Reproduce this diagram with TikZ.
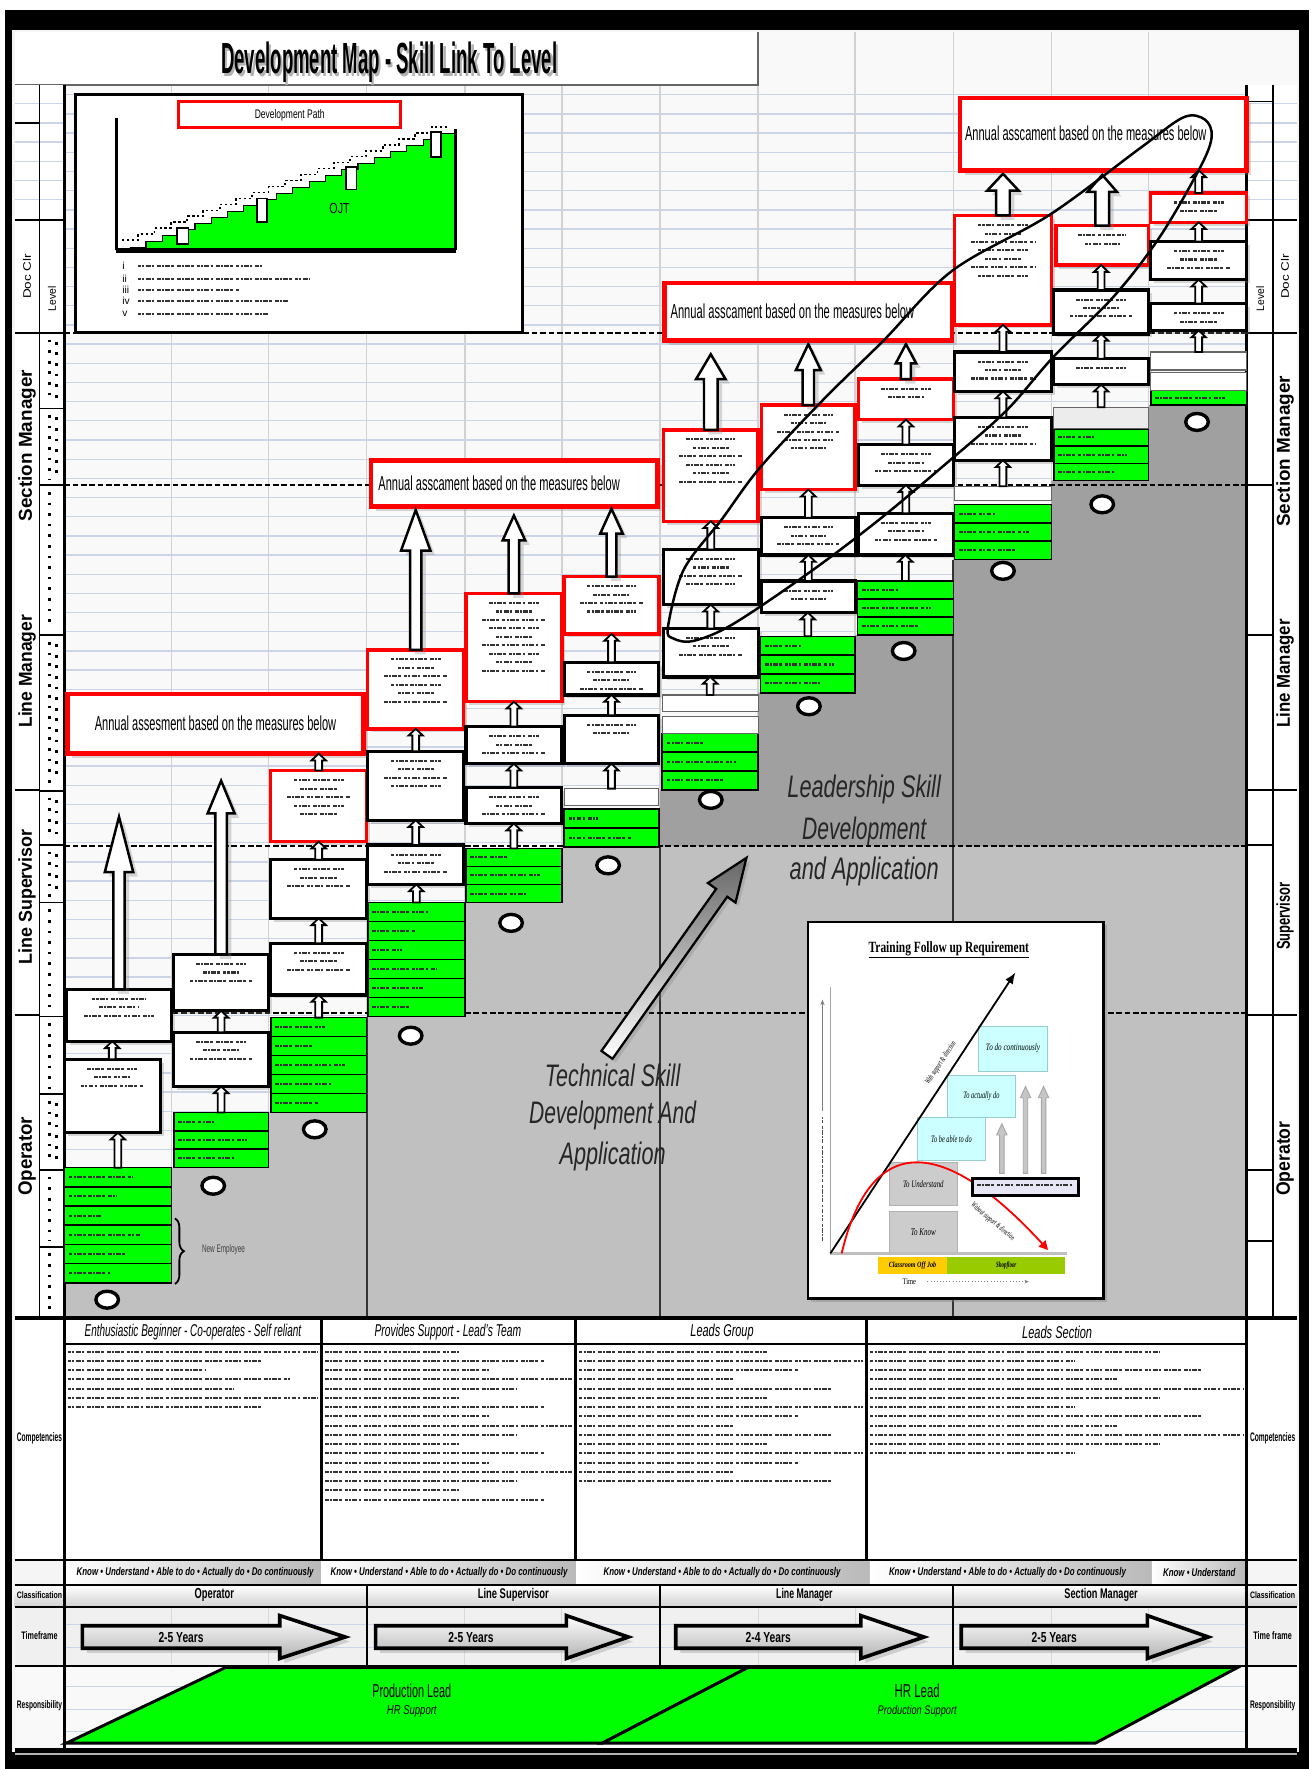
\documentclass[tikz,border=0pt]{standalone}
\usepackage{graphicx}
\usepackage{fontspec}
\setmainfont{Liberation Sans}
\newfontfamily\serifx{Liberation Serif}
\usetikzlibrary{shapes.geometric,shapes.arrows,shadows,decorations.pathreplacing,calc,arrows.meta}
\definecolor{gridblue}{HTML}{CCD5E8}
\definecolor{lgrey}{HTML}{C0C0C0}
\definecolor{dgrey}{HTML}{A0A0A0}
\definecolor{pgreen}{HTML}{00FF00}
\definecolor{tcyan}{HTML}{CCFFFF}
\definecolor{ylw}{HTML}{FFCC00}
\definecolor{lgreen}{HTML}{99CC00}
\definecolor{lav}{HTML}{E6E6F5}
\newcommand\fitt[3]{\resizebox{#1}{#2}{#3}}
\tikzset{
 faketext/.style={line width=0.9pt, black!80, dash pattern=on 1.6pt off 0.5pt on 0.9pt off 0.5pt on 2.2pt off 0.5pt on 1.2pt off 1.3pt},
 wbox/.style={draw=black, line width=1.4pt, fill=white, inner sep=0pt, outer sep=0pt, anchor=north west, drop shadow={opacity=0.3,shadow xshift=1.5pt,shadow yshift=-1.5pt}},
 strip/.style={draw=black!60, line width=0.5pt, fill=white, inner sep=0pt, outer sep=0pt, anchor=north west},
 rbox/.style={draw=red, line width=1.5pt, fill=white, inner sep=0pt, outer sep=0pt, anchor=north west, drop shadow={opacity=0.3,shadow xshift=1.5pt,shadow yshift=-1.5pt}},
 abox/.style={draw=red, line width=2pt, fill=white, inner sep=0pt, outer sep=0pt, anchor=north west, drop shadow={opacity=0.3,shadow xshift=2pt,shadow yshift=-2pt}},
 gbar/.style={draw=black, line width=0.7pt, fill=pgreen, inner sep=0pt, outer sep=0pt, anchor=north west},
 ovl/.style={ellipse, draw=black, line width=1.5pt, fill=white, minimum width=10pt, minimum height=7.5pt, inner sep=0pt},
 smallarrow/.style={draw=black, line width=0.8pt, fill=white},
 bigarrow/.style={draw=black, line width=1.1pt, fill=white, drop shadow={opacity=0.3,shadow xshift=2pt,shadow yshift=-2pt}},
 greyarrow/.style={draw=gray!70, line width=0.4pt, fill=gray!45},
 lvl/.style={line width=0.9pt, dash pattern=on 2.5pt off 1.2pt},
 dotv/.style={line width=1.3pt, dash pattern=on 1.2pt off 3.5pt},
 tfarrow/.style={draw=black, line width=1.6pt, top color=white, bottom color=gray!60, drop shadow={opacity=0.3,shadow xshift=2pt,shadow yshift=-2pt}},
 para/.style={draw=black, line width=1.3pt, fill=pgreen},
}
% box with fake text lines
\newcommand\bxt[7]{%
 \node[#2, minimum width={(#5-#3)*0.5pt}, minimum height={(#6-#4)*0.5pt}] (#1) at (#3,#4) {};
 \ifnum#7>0\relax
 \foreach \k in {1,...,#7}{%
  \pgfmathsetmacro\fkw{(#5-#3)*(0.66-0.14*mod(\k,3))/2}%
  \pgfmathsetmacro\fky{#4+1+\k*7.5}%
  \pgfmathsetmacro\fkx{(#3+#5)/2}%
  \draw[faketext] (\fkx-\fkw,\fky) -- (\fkx+\fkw,\fky);}%
 \fi}
% stack of green rows
\newcommand\gstack[6]{%
 \foreach \i in {1,...,#6}{%
  \pgfmathsetmacro\gya{#4+(\i-1)*(#5-#4)/#6}%
  \pgfmathsetmacro\gyb{#4+\i*(#5-#4)/#6}%
  \pgfmathsetmacro\gyc{(\gya+\gyb)/2}%
  \pgfmathsetmacro\gxl{#2+4+(#3-#2-10)*(0.35+0.55*mod(\i*5+#6,7)/7)}%
  \node[gbar, minimum width={(#3-#2)*0.5pt}, minimum height={(\gyb-\gya)*0.5pt}] (#1-\i) at (#2,\gya) {};
  \draw[faketext] (#2+4,\gyc) -- (\gxl,\gyc);}}
% small block arrow from lower node to upper node
\newcommand\sarr[2]{%
 \path[smallarrow] let \p1=(#1.north), \p2=(#2.south) in
 (\x1-1.5pt,\y1) -- (\x1-1.5pt,\y2-3pt) -- (\x1-3.2pt,\y2-3pt) -- (\x1,\y2) -- (\x1+3.2pt,\y2-3pt) -- (\x1+1.5pt,\y2-3pt) -- (\x1+1.5pt,\y1) -- cycle;}
% big block arrow
\newcommand\barr[6][bigarrow]{%
 \path[#1] let \p1=#2, \p2=#3 in
 (\x1-#4,\y1) -- (\x1-#4,\y2-#6) -- (\x1-#5,\y2-#6) -- (\x1,\y2) -- (\x1+#5,\y2-#6) -- (\x1+#4,\y2-#6) -- (\x1+#4,\y1) -- cycle;}
% fake text block
\newcommand\ftblock[5]{%
 \foreach \k in {1,...,#4}{%
  \pgfmathsetmacro\fbl{#1+3+(#2-#1-6)*(0.55+0.45*mod(\k*3+#5,5)/4)}%
  \pgfmathsetmacro\fby{#3+(\k-1)*8.2}%
  \draw[faketext] (#1+3,\fby) -- (\fbl,\fby);}}
% timeframe arrow
\newcommand\tfa[4]{%
 \path[tfarrow] (#1,1441) -- (#2,1441) -- (#2,1432) -- (#3,1451) -- (#2,1470) -- (#2,1461) -- (#1,1461) -- cycle;
 \node (#4) at ({(#1+#2)/2},1451) {\fitt{20pt}{4.5pt}{\bfseries 2-5 Years}};}

\begin{document}
\begin{tikzpicture}[x=0.5pt,y=-0.5pt]
\useasboundingbox (0,0) rectangle (1162,1568);
\fill[white] (0,0) rectangle (1162,1568);
\fill[black] (4,9) rectangle (1160,1568);
\fill[gray!8] (11,27) rectangle (1151,1553);
% main grid
\fill[gray!5] (13,28) rectangle (1150,1168);
\foreach \yy in {84,101,...,1160} \draw[gridblue, line width=0.6pt] (13,\yy) -- (1150,\yy);
\foreach \xx in {152,238,325,412,498,585,672,758,845,932,1018} \draw[gray!35, line width=0.7pt] (\xx,28) -- (\xx,1168);
% title band
\fill[white] (13,28) rectangle (672,75);
\draw[black!60, line width=0.8pt] (13,75) -- (672,75) -- (672,28);
\node[text=black!30] at (347,58) {\fitt{149pt}{14pt}{\bfseries Development Map - Skill Link To Level}};
\node (title) at (345,55) {\fitt{149pt}{14pt}{\bfseries Development Map - Skill Link To Level}};
% grey regions under the staircase
\fill[lgrey] (57,1168) -- (57,1137) -- (152,1137) -- (152,1035) -- (238,1035) -- (238,986) -- (325,986) -- (325,901) -- (412,901) -- (412,800) -- (498,800) -- (498,751) -- (585,751) -- (585,700) -- (672,700) -- (672,614) -- (758,614) -- (758,563) -- (845,563) -- (845,496) -- (932,496) -- (932,426) -- (1018,426) -- (1018,359) -- (1105,359) -- (1105,1168) -- cycle;
\fill[dgrey] (585,750) -- (585,700) -- (672,700) -- (672,614) -- (758,614) -- (758,563) -- (845,563) -- (845,496) -- (932,496) -- (932,426) -- (1018,426) -- (1018,359) -- (1105,359) -- (1105,750) -- cycle;
\draw[line width=1pt, black!80] (325,901) -- (325,1168) (585,751) -- (585,1168) (845,496) -- (845,1168);
% level lines
\foreach \yy in {295,430,750,898} \draw[lvl] (57,\yy) -- (1105,\yy);
% left label columns
\fill[white] (13,75) rectangle (57,1168);
\foreach \yy in {92,109,126,143,160,177} \draw[gridblue, line width=0.6pt] (13,\yy) -- (57,\yy);
\draw[line width=0.8pt] (35,75) -- (35,1168);
\draw[line width=1.2pt] (57,75) -- (57,1168);
\foreach \yy in {109,195,295,700,900} \draw[line width=0.8pt] (13,\yy) -- (35,\yy);
\foreach \yy in {195,295,362,430,563,701,749,800,901,970,1037,1105} \draw[line width=0.8pt] (35,\yy) -- (57,\yy);
\foreach \ya/\yb in {295/362,362/430,430/563,563/701,701/749,749/800,800/901,901/970,970/1037,1037/1105,1105/1168} \draw[dotv] (44,\ya+6) -- (44,\yb-5);
\foreach \ya/\yb in {295/362,362/430,563/701,701/749,749/800,970/1037} \draw[dotv] (50,\ya+8) -- (50,\yb-8);
\node[rotate=90] (lsm) at (24,395) {\fitt{67pt}{6pt}{\bfseries Section Manager}};
\node[rotate=90] (llm) at (24,595) {\fitt{50pt}{6pt}{\bfseries Line Manager}};
\node[rotate=90] (lls) at (24,795) {\fitt{60pt}{6pt}{\bfseries Line Supervisor}};
\node[rotate=90] (lop) at (24,1025) {\fitt{35pt}{6pt}{\bfseries Operator}};
\node[rotate=90] (ldc) at (24,245) {\fitt{20pt}{3.5pt}{Doc Clr}};
\node[rotate=90] (llv) at (46,265) {\fitt{11pt}{3.5pt}{Level}};
% right label columns
\fill[white] (1105,75) rectangle (1150,1168);
\foreach \yy in {92,109,126,143,160,177} \draw[gridblue, line width=0.6pt] (1105,\yy) -- (1150,\yy);
\draw[line width=1.2pt] (1105,75) -- (1105,1168);
\draw[line width=0.8pt] (1128,75) -- (1128,1168);
\foreach \yy in {195,295,700,900} \draw[line width=0.8pt] (1128,\yy) -- (1150,\yy);
\foreach \yy in {90,195,295,430,563,700,749,900,1037,1100} \draw[line width=0.8pt] (1105,\yy) -- (1128,\yy);
\node[rotate=90] (rsm) at (1139,400) {\fitt{67pt}{6pt}{\bfseries Section Manager}};
\node[rotate=90] (rlm) at (1139,597) {\fitt{48pt}{6pt}{\bfseries Line Manager}};
\node[rotate=90] (rls) at (1139,812) {\fitt{30pt}{6pt}{\bfseries Supervisor}};
\node[rotate=90] (rop) at (1139,1027) {\fitt{33pt}{6pt}{\bfseries Operator}};
\node[rotate=90] (rlv) at (1117,265) {\fitt{11pt}{3.5pt}{Level}};
\node[rotate=90] (rdc) at (1139,245) {\fitt{20pt}{3.5pt}{Doc Clr}};
% development path inset
\node[draw=black, line width=1.2pt, fill=white, anchor=north west, minimum width=198pt, minimum height=105.5pt, inner sep=0pt, outer sep=0pt] (devin) at (67,84) {};
\node[draw=red, line width=1.3pt, fill=white, anchor=north west, minimum width=98.5pt, minimum height=11.5pt, inner sep=0pt] (devpath) at (157,89) {};
\node at (devpath) {\fitt{31pt}{4pt}{Development Path}};
\fill[pgreen] (115,221) \foreach \k in {0,...,19} { -- ({115+\k*14.45},{219-\k*5.3}) -- ({115+(\k+1)*14.45},{219-\k*5.3}) } -- (404,221) -- cycle;
\draw[black, line width=0.5pt] (115,219) \foreach \k in {0,...,19} { -- ({115+\k*14.45},{219-\k*5.3}) -- ({115+(\k+1)*14.45},{219-\k*5.3}) };
\draw[black, line width=0.8pt, dash pattern=on 1pt off 1.2pt] (108,213) \foreach \k in {0,...,19} { -- ({108+\k*14.45},{213-\k*5.3}) -- ({108+(\k+1)*14.45},{213-\k*5.3}) };
\draw[line width=1.3pt] (103,105) -- (103,222);
\draw[line width=2.5pt] (103,222) -- (404,222);
\draw[line width=1.3pt] (404,222) -- (404,114);
\foreach \xa/\ya/\xb/\yb in {157/202/167/216, 228/176/237/197, 307/148/316/168, 382/117/391/139}
  \filldraw[fill=white, draw=black, line width=0.8pt] (\xa,\ya) rectangle (\xb,\yb);
\node (ojt) at (301,185) {\fitt{9pt}{4.5pt}{OJT}};
\foreach \yy/\rn/\xe in {236/i/232, 247/ii/275, 257/iii/212, 267/iv/255, 278/v/238} {
  \node[anchor=west, inner sep=0pt, font=\fontsize{4.5}{5}\selectfont] at (108,\yy) {\rn};
  \draw[faketext, line width=0.8pt] (122,\yy) -- (\xe,\yy);}
% annual boxes
\node[abox, minimum width=131pt, minimum height=26.5pt] (a1) at (60,615) {};
\node (a1t) at (191,641) {\fitt{107pt}{6.5pt}{Annual assesment based on the measures below}};
\node[abox, minimum width=127pt, minimum height=20.5pt] (a2) at (329,408) {};
\node[anchor=west, inner sep=0pt] (a2t) at (335,428) {\fitt{107pt}{6.5pt}{Annual asscament based on the measures below}};
\node[abox, minimum width=127.5pt, minimum height=25.5pt] (a3) at (589,251) {};
\node[anchor=west, inner sep=0pt] (a3t) at (594,276) {\fitt{108pt}{6.5pt}{Annual asscament based on the measures below}};
\node[abox, minimum width=127pt, minimum height=32pt] (a4) at (851,87) {};
\node[anchor=west, inner sep=0pt] (a4t) at (855,118) {\fitt{107pt}{6.5pt}{Annual asscament based on the measures below}};
% column 1
\gstack{c1g}{57}{152}{1035}{1137}{6}
\bxt{c1b}{wbox}{57}{939}{142}{1004}{3}
\bxt{c1a}{wbox}{59}{877}{152}{923}{3}
\node[ovl] (o1) at (95,1152) {};
\sarr{c1g-1}{c1b}
\sarr{c1b}{c1a}
\barr{(c1a.north)}{(100,724)}{2.5pt}{6.3pt}{24.5pt}
% brace
\draw[decorate, decoration={brace, amplitude=4pt}, line width=0.8pt] (155,1080) -- (155,1138);
\node[anchor=west, text=black!75] (newemp) at (172,1108) {\fitt{19pt}{3.5pt}{New Employee}};
% column 2
\gstack{c2g}{154}{238}{986}{1035}{3}
\bxt{c2b}{wbox}{154}{915}{238}{963}{3}
\bxt{c2a}{wbox}{154}{846}{238}{896}{3}
\node[ovl] (o2) at (189,1051) {};
\sarr{c2g-1}{c2b}
\sarr{c2b}{c2a}
\barr{(c2a.north)}{(195,692)}{2.5pt}{6pt}{14.5pt}
% column 3
\gstack{c3g}{240}{325}{902}{986}{5}
\bxt{c3b}{wbox}{240}{836}{325}{882}{3}
\bxt{c3a}{wbox}{240}{762}{325}{814}{3}
\bxt{c3r}{rbox}{240}{683}{325}{746}{5}
\node[ovl] (o3) at (279,1001) {};
\sarr{c3g-1}{c3b}
\sarr{c3b}{c3a}
\sarr{c3a}{c3r}
\sarr{c3r}{a1}
% column 4
\gstack{c4g}{326}{412}{800}{901}{6}
\bxt{c4b}{wbox}{326}{749}{411}{784}{3}
\bxt{c4a}{wbox}{326}{666}{411}{727}{4}
\bxt{c4r}{rbox}{326}{576}{411}{646}{6}
\node[ovl] (o4) at (364,918) {};
\sarr{c4g-1}{c4b}
\sarr{c4b}{c4a}
\sarr{c4a}{c4r}
\barr{(c4r.north)}{(369,452)}{2.5pt}{6.5pt}{18pt}
% column 5
\gstack{c5g}{413}{498}{752}{800}{3}
\bxt{c5b}{wbox}{413}{698}{498}{730}{3}
\bxt{c5a}{wbox}{413}{644}{498}{677}{3}
\bxt{c5r}{rbox}{413}{526}{498}{622}{9}
\node[ovl] (o5) at (453,818) {};
\sarr{c5g-1}{c5b}
\sarr{c5b}{c5a}
\sarr{c5a}{c5r}
\barr{(c5r.north)}{(456,457)}{2.3pt}{5pt}{11pt}
% column 6
\gstack{c6g}{500}{584}{717}{751}{2}
\node[strip, minimum width=42pt, minimum height=7.5pt] (c6s) at (500,699) {};
\bxt{c6b}{wbox}{500}{634}{584}{677}{2}
\bxt{c6a}{wbox}{500}{587}{584}{616}{3}
\bxt{c6r}{rbox}{500}{511}{584}{562}{4}
\node[ovl] (o6) at (539,767) {};
\sarr{c6s}{c6b}
\sarr{c6b}{c6a}
\sarr{c6a}{c6r}
\barr{(c6r.north)}{(542,451)}{2.2pt}{5pt}{11pt}
% column 7
\gstack{c7g}{587}{672}{650}{700}{3}
\node[strip, minimum width=42.5pt, minimum height=7.5pt] (c7s2) at (587,635) {};
\node[strip, minimum width=42.5pt, minimum height=7.5pt] (c7s1) at (587,616) {};
\bxt{c7b}{wbox}{588}{557}{672}{600}{3}
\bxt{c7a}{wbox}{588}{487}{672}{536}{4}
\bxt{c7r}{rbox}{588}{381}{672}{462}{6}
\node[ovl] (o7) at (630,709) {};
\sarr{c7s1}{c7b}
\sarr{c7b}{c7a}
\sarr{c7a}{c7r}
\barr{(c7r.north)}{(630,314)}{3pt}{6.5pt}{11pt}
% column 8
\gstack{c8g}{674}{758}{564}{614}{3}
\bxt{c8b}{wbox}{675}{515}{758}{543}{2}
\bxt{c8a}{wbox}{675}{459}{758}{492}{3}
\bxt{c8r}{rbox}{675}{359}{758}{434}{5}
\node[ovl] (o8) at (717,626) {};
\sarr{c8g-1}{c8b}
\sarr{c8b}{c8a}
\sarr{c8a}{c8r}
\barr{(c8r.north)}{(717,305)}{2.5pt}{5.5pt}{11.5pt}
% column 9
\gstack{c9g}{760}{845}{515}{563}{3}
\bxt{c9b}{wbox}{761}{455}{845}{492}{3}
\bxt{c9a}{wbox}{761}{394}{845}{430}{3}
\bxt{c9r}{rbox}{761}{336}{845}{372}{2}
\node[ovl] (o9) at (801,577) {};
\sarr{c9g-1}{c9b}
\sarr{c9b}{c9a}
\sarr{c9a}{c9r}
\barr{(c9r.north)}{(804,305)}{2.2pt}{4.5pt}{8.5pt}
% column 10
\gstack{c10g}{846}{932}{447}{496}{3}
\node[strip, minimum width=43pt, minimum height=6.5pt] (c10s) at (846,431) {};
\bxt{c10b}{wbox}{846}{370}{932}{408}{3}
\bxt{c10a}{wbox}{846}{312}{932}{347}{3}
\bxt{c10r}{rbox}{846}{191}{932}{288}{7}
\node[ovl] (o10) at (889,506) {};
\sarr{c10s}{c10b}
\sarr{c10b}{c10a}
\sarr{c10a}{c10r}
\barr{(c10r.north)}{(891,154)}{3pt}{7pt}{7.5pt}
% column 11
\gstack{c11g}{934}{1018}{380}{426}{3}
\node[strip, fill=gray!15, minimum width=42pt, minimum height=9.5pt] (c11s) at (934,361) {};
\bxt{c11b}{wbox}{934}{318}{1018}{341}{1}
\bxt{c11a}{wbox}{934}{257}{1018}{296}{3}
\bxt{c11r}{rbox}{936}{200}{1018}{235}{2}
\node[ovl] (o11) at (977,447) {};
\sarr{c11s}{c11b}
\sarr{c11b}{c11a}
\sarr{c11a}{c11r}
\barr{(c11r.north)}{(978,155)}{3pt}{6.5pt}{7.5pt}
% column 12
\gstack{c12g}{1020}{1105}{346}{359}{1}
\node[strip, minimum width=42.5pt, minimum height=8pt] (c12s2) at (1020,330) {};
\node[strip, minimum width=42.5pt, minimum height=8pt] (c12s1) at (1020,312) {};
\bxt{c12b}{wbox}{1020}{269}{1105}{293}{2}
\bxt{c12a}{wbox}{1020}{214}{1105}{248}{3}
\bxt{c12r}{rbox}{1020}{171}{1105}{197}{2}
\node[ovl] (o12) at (1061,374) {};
\sarr{c12s1}{c12b}
\sarr{c12b}{c12a}
\sarr{c12a}{c12r}
\sarr{c12r}{a4}
% loop curve
\draw[line width=1.1pt] plot[smooth cycle, tension=0.55] coordinates {(592,556) (606,505) (640,460) (674,414) (730,354) (783,302) (844,240) (931,190) (1011,131) (1049,104) (1068,106) (1074,121) (1064,148) (1028,210) (987,263) (934,316) (892,364) (842,408) (780,460) (718,507) (650,553) (615,568) (597,566)};
% skill texts
\node[text=black!85] (lead1) at (766,700) {\fitt{68pt}{10pt}{\itshape Leadership Skill}};
\node[text=black!85] (lead2) at (766,737) {\fitt{55pt}{10pt}{\itshape Development}};
\node[text=black!85] (lead3) at (766,772) {\fitt{66pt}{10pt}{\itshape and Application}};
\coordinate (techtail) at (538,935);
\begin{scope}[shift={(techtail)}, rotate=54.7]
 \shade[draw=black, line width=1pt, top color=gray!80!black, bottom color=white, shading angle=0, drop shadow={opacity=0.3,shadow xshift=1.5pt,shadow yshift=-1.5pt}]
  (0,-6) -- (176,-6) -- (176,-15) -- (214,0) -- (176,15) -- (176,6) -- (0,6) -- cycle;
\end{scope}
\node[text=black!85] (tech1) at (543,953) {\fitt{60pt}{10pt}{\itshape Technical Skill}};
\node[text=black!85] (tech2) at (543,989) {\fitt{74pt}{10pt}{\itshape Development And}};
\node[text=black!85] (tech3) at (543,1025) {\fitt{47pt}{10pt}{\itshape Application}};
% training follow-up inset
\node[draw=black, line width=1.2pt, fill=white, anchor=north west, inner sep=0pt, minimum width=131pt, minimum height=167pt, drop shadow={opacity=0.4,shadow xshift=1.5pt,shadow yshift=-1.5pt}] (tin) at (715,816) {};
\node (ttitle) at (841,842) {\fitt{71pt}{4.8pt}{\serifx\bfseries\underline{Training Follow up Requirement}}};
\draw[gray!70, line width=0.4pt] (736,875) -- (736,1111);
\draw[faketext, line width=0.6pt, gray!60!black] (729,1100) -- (729,990);
\draw[gray, line width=0.4pt, -{Stealth[length=2.5pt]}] (729,985) -- (729,886);
\node[draw=gray!60, fill=gray!40, anchor=north west, minimum width=30pt, minimum height=19pt, inner sep=0pt] (tund) at (788,1030) {\fitt{18pt}{3pt}{\serifx\itshape To Understand}};
\node[draw=gray!60, fill=gray!40, anchor=north west, minimum width=30pt, minimum height=18.5pt, inner sep=0pt] (tknow) at (788,1073) {\fitt{11pt}{3pt}{\serifx\itshape To Know}};
\node[draw=teal!40, fill=tcyan, anchor=north west, minimum width=30pt, minimum height=19pt, inner sep=0pt] (tabl) at (813,990) {\fitt{18pt}{3pt}{\serifx\itshape To be able to do}};
\node[draw=teal!40, fill=tcyan, anchor=north west, minimum width=30.5pt, minimum height=18.5pt, inner sep=0pt] (tact) at (839,953) {\fitt{16pt}{3pt}{\serifx\itshape To actually do}};
\node[draw=teal!40, fill=tcyan, anchor=north west, minimum width=30.5pt, minimum height=20pt, inner sep=0pt] (tcont) at (867,909) {\fitt{24pt}{3pt}{\serifx\itshape To do continuously}};
\draw[gray!50, line width=1.5pt] (736,1111) -- (946,1111);
\draw[line width=0.8pt, -{Latex[length=5pt,width=4pt]}] (736,1111) -- (900,862);
\node[rotate=56.6] (wsd) at (834,942) {\fitt{22pt}{2.5pt}{\serifx\itshape With support \& direction}};
\draw[red, line width=0.8pt, -{Triangle[length=4pt,width=4pt]}] (746,1111) .. controls (770,1010) and (830,1000) .. (929,1108);
\node[rotate=-40] (wosd) at (880,1083) {\fitt{24pt}{2.5pt}{\serifx\itshape Without support \& direction}};
\barr[greyarrow]{(888,1040)}{(888,996)}{1pt}{2.3pt}{5pt}
\barr[greyarrow]{(909,1040)}{(909,963)}{1pt}{2.3pt}{5pt}
\barr[greyarrow]{(925,1040)}{(925,963)}{1pt}{2.3pt}{5pt}
\node[draw=black, line width=1.3pt, fill=lav, anchor=north west, minimum width=47pt, minimum height=7.5pt, inner sep=0pt] (tlav) at (861,1043) {};
\draw[faketext, line width=0.7pt] (866,1050.5) -- (950,1050.5);
\node[fill=ylw, anchor=north west, minimum width=30.5pt, minimum height=7.5pt, inner sep=0pt] (tcls) at (778,1114) {\fitt{21pt}{2.5pt}{\serifx\bfseries\itshape Classroom Off Job}};
\node[fill=lgreen, anchor=north west, minimum width=52.5pt, minimum height=7.5pt, inner sep=0pt] (tshop) at (839,1114) {\fitt{9pt}{2.5pt}{\serifx\bfseries\itshape Shopfloor}};
\node (ttime) at (806,1136) {\fitt{6pt}{2.5pt}{\serifx Time}};
\draw[densely dotted, gray, -{Stealth[length=2pt]}] (822,1136) -- (912,1136);
% ===== bottom section =====
\fill[white] (13,1168) rectangle (1150,1383);
\draw[line width=1.6pt] (13,1168) -- (1150,1168);
\draw[line width=1pt] (57,1191) -- (1105,1191);
\foreach \xx in {285,510,768} \draw[line width=1.2pt] (\xx,1168) -- (\xx,1383);
\node (hA) at (171,1181) {\fitt{96pt}{5.5pt}{\itshape Enthusiastic Beginner - Co-operates - Self reliant}};
\node (hB) at (397,1181) {\fitt{65pt}{5.5pt}{\itshape Provides Support - Lead's Team}};
\node (hC) at (640,1181) {\fitt{28pt}{5.5pt}{\itshape Leads Group}};
\node (hD) at (937,1181) {\fitt{31pt}{5.5pt}{\itshape Leads Section}};
\ftblock{57}{285}{1198}{7}{1}
\ftblock{285}{510}{1198}{17}{2}
\ftblock{510}{768}{1198}{15}{3}
\ftblock{768}{1105}{1198}{12}{4}
\node (lcomp) at (35,1275) {\fitt{20pt}{4pt}{\bfseries Competencies}};
\node (rcomp) at (1128,1275) {\fitt{20pt}{4pt}{\bfseries Competencies}};
% know row
\foreach \xa/\xb in {57/285,285/511,511/771,771/1021,1021/1105} \shade[left color=white, right color=gray!55] (\xa,1383) rectangle (\xb,1405);
\foreach \xc in {173,398,640,893} \node at (\xc,1394) {\fitt{105pt}{3.6pt}{\bfseries\itshape Know • Understand • Able to do • Actually do • Do continuously}};
\node (kn5) at (1063,1394) {\fitt{32pt}{3.6pt}{\bfseries\itshape Know • Understand}};
% classification row
\shade[top color=white, bottom color=gray!35] (13,1405) rectangle (1150,1424);
\node (clop) at (190,1414) {\fitt{17.5pt}{4.5pt}{\bfseries Operator}};
\node (clls) at (455,1414) {\fitt{31.5pt}{4.5pt}{\bfseries Line Supervisor}};
\node (cllm) at (713,1414) {\fitt{25pt}{4.5pt}{\bfseries Line Manager}};
\node (clsm) at (976,1414) {\fitt{32.5pt}{4.5pt}{\bfseries Section Manager}};
\node (lcls) at (35,1414) {\fitt{20pt}{3pt}{\bfseries Classification}};
\node (rcls) at (1128,1414) {\fitt{20pt}{3pt}{\bfseries Classification}};
% timeframe row
\fill[gray!12] (13,1424) rectangle (1150,1477);
\foreach \yy in {1440,1460} \draw[gridblue, line width=0.5pt] (57,\yy) -- (1105,\yy);
\foreach \xx in {152,238,412,498,672,758,932,1018} \draw[gray!30, line width=0.5pt] (\xx,1424) -- (\xx,1551);
\tfa{73}{248}{306}{tf1}
\tfa{333}{502}{557}{tf2}
\path[tfarrow] (599,1441) -- (763,1441) -- (763,1432) -- (819,1451) -- (763,1470) -- (763,1461) -- (599,1461) -- cycle;
\node (tf3) at (681,1451) {\fitt{20pt}{4.5pt}{\bfseries 2-4 Years}};
\tfa{852}{1017}{1071}{tf4}
\node (ltf) at (35,1450) {\fitt{16pt}{3.5pt}{\bfseries Timeframe}};
\node (rtf) at (1128,1450) {\fitt{17pt}{3.5pt}{\bfseries Time frame}};
% responsibility row
\fill[gray!5] (13,1477) rectangle (1150,1551);
\foreach \yy in {1495,1515,1535} \draw[gridblue, line width=0.5pt] (57,\yy) -- (1105,\yy);
\path[para] (59,1545) -- (200,1478) -- (663,1478) -- (534,1545) -- cycle;
\path[para] (534,1545) -- (663,1478) -- (1097,1478) -- (971,1545) -- cycle;
\node (prl) at (365,1499) {\fitt{35pt}{6pt}{Production Lead}};
\node (hrs) at (365,1517) {\fitt{22pt}{4pt}{\itshape HR Support}};
\node (hrl) at (813,1499) {\fitt{20pt}{6pt}{HR Lead}};
\node (prs) at (813,1517) {\fitt{35pt}{4pt}{\itshape Production Support}};
\node (lrs) at (35,1512) {\fitt{20pt}{3.5pt}{\bfseries Responsibility}};
\node (rrs) at (1128,1512) {\fitt{20pt}{3.5pt}{\bfseries Responsibility}};
% bottom grid lines
\draw[line width=1.2pt] (57,1168) -- (57,1551) (1105,1168) -- (1105,1551);
\foreach \yy in {1383,1405,1424,1477} \draw[line width=0.9pt] (13,\yy) -- (1150,\yy);
\foreach \xx in {325,585,845} \draw[line width=0.8pt] (\xx,1405) -- (\xx,1477);
\draw[line width=1.5pt] (13,1551) -- (1150,1551);
\draw[gray!60, line width=0.8pt] (13,1555) -- (1150,1555);
\end{tikzpicture}
\end{document}
